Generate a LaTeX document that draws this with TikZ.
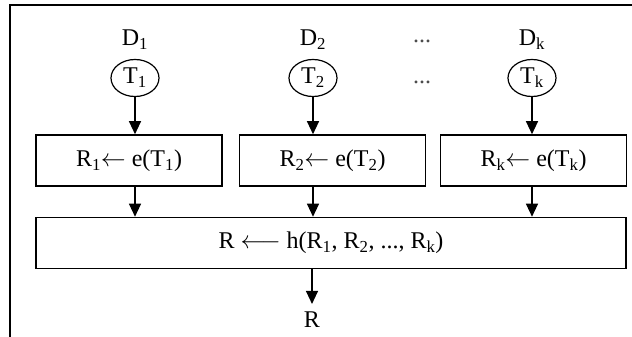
\documentclass[tikz,border=0pt]{standalone}
\usepackage{fontspec}
\setmainfont{Liberation Serif}
\usetikzlibrary{arrows.meta,shapes.geometric}
\begin{document}
\begin{tikzpicture}[x=1pt,y=-1pt,
  every node/.style={font=\fontsize{24}{28}\selectfont},
  ell/.style={draw,line width=1.2pt,ellipse,minimum width=48pt,minimum height=37pt,inner sep=0pt},
  pbox/.style={draw,line width=1.6pt,rectangle,minimum height=51pt,inner sep=0pt},
  arr/.style={line width=1.2pt,-{Triangle[width=12pt,length=13pt]}},
  frame/.style={line width=1.6pt}]
\useasboundingbox (0,0) rectangle (632,337);
% frame
\coordinate (fl) at (10,337);
\coordinate (ftl) at (10,5);
\coordinate (ftr) at (632,5);
\draw[frame] (fl) -- (ftl) -- (ftr);
% labels and tasks
\node (d1) at (135,40) {D\textsubscript{1}};
\node (d2) at (313,40) {D\textsubscript{2}};
\node (dk) at (532,40) {D\textsubscript{k}};
\node[text=black!70] (dots1) at (422,41) {...};
\node[text=black!70] (dots2) at (422,82) {...};
\node[ell] (t1) at (135,78) {T\textsubscript{1}};
\node[ell] (t2) at (313,78) {T\textsubscript{2}};
\node[ell] (tk) at (532,78) {T\textsubscript{k}};
% boxes
\node[pbox,minimum width=186pt] (b1) at (129,160.5) {R\textsubscript{1}$\leftarrow$ e(T\textsubscript{1})};
\node[pbox,minimum width=186pt] (b2) at (332.5,160.5) {R\textsubscript{2}$\leftarrow$ e(T\textsubscript{2})};
\node[pbox,minimum width=186pt] (bk) at (533.5,160.5) {R\textsubscript{k}$\leftarrow$ e(T\textsubscript{k})};
\node[pbox,minimum width=590pt] (big) at (331,243) {R $\longleftarrow$ h(R\textsubscript{1}, R\textsubscript{2}, ..., R\textsubscript{k})};
\node[inner sep=8pt] (r) at (312,320) {R};
% arrows
\draw[arr] (t1.south) -- (b1.north -| t1.south);
\draw[arr] (t2.south) -- (b2.north -| t2.south);
\draw[arr] (tk.south) -- (bk.north -| tk.south);
\draw[arr] (b1.south -| t1.south) -- (big.north -| t1.south);
\draw[arr] (b2.south -| t2.south) -- (big.north -| t2.south);
\draw[arr] (bk.south -| tk.south) -- (big.north -| tk.south);
\draw[arr] (big.south -| r.north) -- (r.north);
\end{tikzpicture}
\end{document}
